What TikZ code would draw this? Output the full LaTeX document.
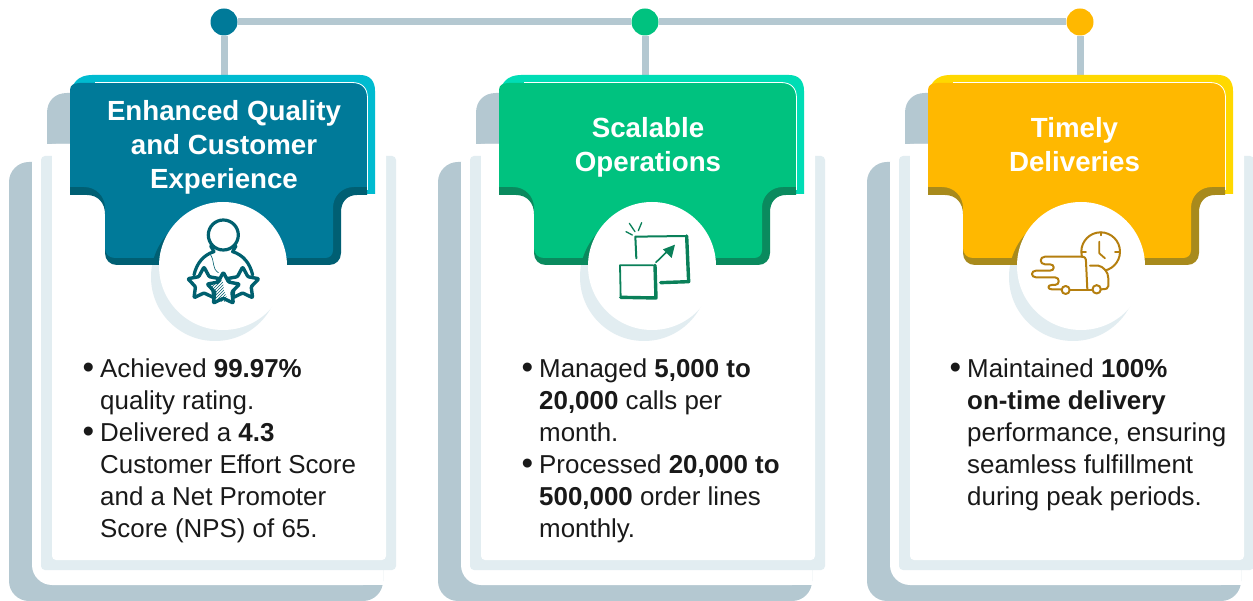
\documentclass[tikz,border=0pt]{standalone}
\usepackage{fontspec}
\setmainfont{Liberation Sans}
\usetikzlibrary{backgrounds,shapes.geometric,patterns}
\definecolor{greyb}{HTML}{B4C8D1}
\definecolor{lightb}{HTML}{E2EDF1}
\definecolor{mainA}{HTML}{007A99}\definecolor{darkA}{HTML}{005F73}\definecolor{topA}{HTML}{00BBD0}\definecolor{icoA}{HTML}{00606F}
\definecolor{mainB}{HTML}{00C27F}\definecolor{darkB}{HTML}{0A8A5E}\definecolor{topB}{HTML}{00DDB5}\definecolor{icoB}{HTML}{0A8059}
\definecolor{mainC}{HTML}{FFB800}\definecolor{darkC}{HTML}{A88A1C}\definecolor{topC}{HTML}{FFD800}\definecolor{icoC}{HTML}{B57F0F}
\tikzset{
  dotnode/.style={circle,inner sep=0pt,minimum size=27pt},
  wire/.style={greyb,line width=7pt},
  head/.style={text=white,font=\fontsize{27.7}{34}\selectfont\bfseries,align=center,inner sep=0pt},
  body/.style={text=black!90,font=\fontsize{25.9}{32}\selectfont,align=left,inner sep=0pt,anchor=north west},
  starnode/.style={star,star points=5,star point ratio=1.9,inner sep=0pt,minimum size=34pt,draw=icoA,fill=white,line width=3.4pt,rounded corners=1pt,line join=round},
  ico/.style={line cap=round,line join=round}
}
\newcommand{\bl}{\llap{{\fontsize{33}{32}\selectfont\raisebox{-1pt}{•}}\hspace{6pt}}}
\newcommand{\tealpath}{(70,187) -- (70,90) .. controls (70,85) and (74,83) .. (80,83) -- (352,83) .. controls (362,83) and (367,88) .. (367,98) -- (367,187) -- (354,187) .. controls (342,187) and (333,196) .. (333,208) -- (333,250) .. controls (333,255) and (330,258) .. (325,258) -- (115,258) .. controls (109,258) and (105,254) .. (105,248) -- (105,208) .. controls (105,196) and (96,187) .. (84,187) -- cycle}
\newcommand{\darkpath}{(70,187) -- (70,195) -- (87,195) .. controls (98,195) and (105,203) .. (105,214) -- (105,253) .. controls (105,260) and (110,265) .. (117,265) -- (329,265) .. controls (336,265) and (341,260) .. (341,253) -- (341,212) .. controls (341,202) and (347,195) .. (357,195) -- (367,195) -- (367,187) -- (300,100) -- cycle}
% #1 main #2 dark #3 top
\newcommand{\card}[3]{%
  \fill[greyb] (47,144) -- (47,113) .. controls (47,101) and (55,93) .. (67,93) -- (100,93) -- (100,144) -- cycle;
  \fill[greyb,rounded corners=20pt] (9,162) rectangle (383,601);
  \fill[white,rounded corners=20pt] (32,144) -- (32,585) -- (383,585) -- (383,144) -- cycle;
  \fill[white] (60,144) rectangle (383,585);
  \fill[lightb,rounded corners=4pt] (41,156) rectangle (396,570);
  \fill[white,rounded corners=4pt] (52,144) rectangle (386,560);
  \fill[lightb] (215,277) circle[radius=64pt];
  \fill[#3] (70,95) .. controls (72,83) and (78,75) .. (92,75) -- (360,75) .. controls (370,75) and (375,81) .. (375,91) -- (375,194) -- (360,194) -- (360,90) -- cycle;
  \fill[#2] \darkpath;
  \fill[#1] \tealpath;
  \draw[white,line width=0.8pt] (95,82.5) -- (352,82.5) .. controls (362,82.5) and (367.5,88) .. (367.5,98) -- (367.5,190);
  \begin{scope}
    \clip (105,190) rectangle (341,265);
    \fill[#2] (215,277) circle[radius=64pt];
  \end{scope}
  \fill[white] (223,266) circle[radius=64pt];
}
\begin{document}
\begin{tikzpicture}[x=1pt,y=-1pt]
\useasboundingbox (0,0) rectangle (1253,601);

\begin{scope}\card{mainA}{darkA}{topA}\end{scope}
\begin{scope}[shift={(429,0)}]\card{mainB}{darkB}{topB}\end{scope}
\begin{scope}[shift={(858,0)}]\card{mainC}{darkC}{topC}\end{scope}

\node[dotnode,fill=mainA] (d1) at (224,22) {};
\node[dotnode,fill=mainB] (d2) at (645,22) {};
\node[dotnode,fill=mainC] (d3) at (1080,22) {};
\coordinate (t1) at (224,76);
\coordinate (t2) at (645,76);
\coordinate (t3) at (1080,76);
\begin{pgfonlayer}{background}
  \fill[white] (0,0) rectangle (1253,601);
  \draw[wire] (d1) -- (t1);
  \draw[wire] (d2) -- (t2);
  \draw[wire] (d3) -- (t3);
  \draw[wire] (d1) -- (d2);
  \draw[wire] (d2) -- (d3);
\end{pgfonlayer}

\node[head] (h1) at (224,147.5) {Enhanced Quality\\and Customer\\Experience};
\node[head] (h2) at (648,147.5) {Scalable\\Operations};
\node[head] (h3) at (1074.5,144.5) {Timely\\Deliveries};

\node[body] (b1) at (100,358.7) {\bl Achieved \textbf{99.97\%}\\quality rating.\\\bl Delivered a \textbf{4.3}\\Customer Effort Score\\and a Net Promoter\\Score (NPS) of 65.};
\node[body] (b2) at (539,358.7) {\bl Managed \textbf{5,000 to}\\\textbf{20,000} calls per\\month.\\\bl Processed \textbf{20,000 to}\\\textbf{500,000} order lines\\monthly.};
\node[body] (b3) at (967,358.7) {\bl Maintained \textbf{100\%}\\\textbf{on-time delivery}\\performance, ensuring\\seamless fulfillment\\during peak periods.};

% person with stars
\begin{scope}[shift={(140,200)},scale=0.3333,ico]
  \draw[icoA,line width=3.2pt] (250,105) circle[radius=45pt];
  \draw[icoA,line width=3.2pt] (212,138) -- (222,155) .. controls (190,165) and (170,190) .. (162,225);
  \draw[icoA,line width=3.2pt] (288,138) -- (278,155) .. controls (310,165) and (330,190) .. (338,225);
  \draw[icoA,line width=0.6pt] (212,165) .. controls (225,185) and (215,205) .. (235,218);
  \node[starnode] (s1) at (192,252) {};
  \node[starnode] (s2) at (308,252) {};
  \node[starnode] (s3) at (250,268) {};
  \fill[pattern=north east lines,pattern color=icoA] (248,240) -- (210,256) -- (226,276) -- (220,303) -- (266,306) -- (252,272) -- cycle;
\end{scope}

% scaling squares
\begin{scope}[shift={(570,200)},scale=0.3333,ico]
  \draw[icoB,line width=2pt] (199,175) -- (196,110) -- (350,108);
  \draw[icoB,line width=3.4pt] (350,108) -- (356,245) -- (272,248);
  \draw[icoB,line width=1.8pt] (152,290) -- (150,196) -- (250,196);
  \draw[icoB,line width=3.4pt] (152,292) -- (258,294) -- (255,196);
  \draw[icoB,line width=1.6pt] (258,187) -- (290,156);
  \fill[icoB] (315,134) -- (279,148) -- (305,174) -- cycle;
  \draw[icoB,line width=1.3pt] (168,95) -- (187,105);
  \draw[icoB,line width=1.3pt] (178,70) -- (195,95);
  \draw[icoB,line width=1.3pt] (215,68) -- (205,92);
\end{scope}

% truck and clock
\begin{scope}[shift={(1000,200)},scale=0.3333,ico]
  \draw[icoC,line width=2pt] (302,155) circle[radius=58pt];
  \draw[icoC,line width=1.8pt] (302,97) -- (302,106) (302,204) -- (302,213) (345,155) -- (360,155) (245,155) -- (258,155);
  \draw[icoC,line width=1.8pt] (298,125) -- (298,160) -- (315,175);
  \fill[white] (245,170) -- (262,180) -- (270,197) -- (300,197) -- (325,225) -- (325,268) -- (165,268) -- (165,232) -- (200,170) -- cycle;
  \draw[icoC,line width=2pt] (245,170) -- (135,170) .. controls (118,170) and (118,193) .. (135,193) -- (150,193) .. controls (165,193) and (165,212) .. (150,212) -- (108,212) .. controls (92,212) and (92,232) .. (108,232) -- (165,232) .. controls (180,232) and (180,255) .. (165,255) -- (155,255) .. controls (142,255) and (142,268) .. (155,268) -- (185,268);
  \draw[icoC,line width=2pt] (245,170) .. controls (255,170) and (258,175) .. (258,185) -- (262,268);
  \draw[icoC,line width=2pt] (270,197) -- (295,197) .. controls (310,200) and (325,215) .. (325,235) -- (325,258) .. controls (325,265) and (320,268) .. (303,268);
  \draw[icoC,line width=2pt] (197,270) circle[radius=12pt];
  \draw[icoC,line width=2pt] (210,270) -- (278,270);
  \draw[icoC,line width=2pt] (290,268) circle[radius=12.5pt];
\end{scope}
\end{tikzpicture}
\end{document}
